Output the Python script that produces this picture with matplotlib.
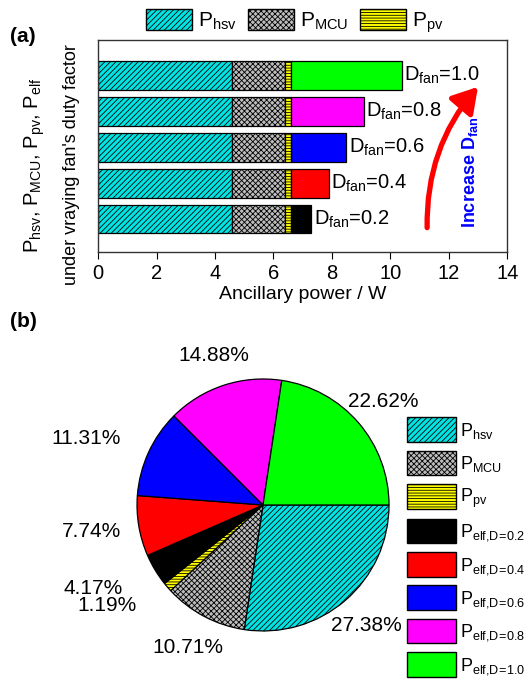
import numpy as np
import matplotlib
matplotlib.use("Agg")
import matplotlib.pyplot as plt
from matplotlib import font_manager
from matplotlib.patches import FancyArrowPatch, Patch

installed = {f.name for f in font_manager.fontManager.ttflist}
narrow = 'Liberation Sans Narrow' if 'Liberation Sans Narrow' in installed else 'Liberation Sans'

plt.rcParams['font.family'] = ['Liberation Sans', 'DejaVu Sans']
plt.rcParams['mathtext.fontset'] = 'custom'
plt.rcParams['mathtext.rm'] = 'Liberation Sans'
plt.rcParams['mathtext.it'] = 'Liberation Sans:italic'
plt.rcParams['mathtext.bf'] = 'Liberation Sans:bold'
plt.rcParams['mathtext.sf'] = narrow
plt.rcParams['hatch.linewidth'] = 0.6

# Ancillary power components (W)
p_hsv = 4.6
p_mcu = 1.8
p_pv = 0.2
duty_factors = [0.2, 0.4, 0.6, 0.8, 1.0]
p_elf = [0.7, 1.3, 1.9, 2.5, 3.8]
x_ticks = [0, 2, 4, 6, 8, 10, 12, 14]

base_names = [r'P$_{\mathrm{hsv}}$', r'P$_{\mathrm{MCU}}$', r'P$_{\mathrm{pv}}$']
elf_names = [r'P$_{\mathsf{elf{,}D\!=\!%.1f}}$' % d for d in duty_factors]

c_hsv, c_mcu, c_pv = '#00e4e4', '#bdbdbd', '#ffff00'
h_hsv, h_mcu, h_pv = '//////', 'xxxxxx', '------'
elf_colors = ['#000000', '#ff0000', '#0000ff', '#ff00ff', '#00ff00']

fig = plt.figure(figsize=(5.3, 6.82), dpi=100)

# ---- (a) stacked horizontal bars ----
ax = fig.add_axes([0.185, 0.6305, 0.772, 0.311])
ypos = np.arange(1, len(duty_factors) + 1)
h = 0.8
hsv_vals = np.full(len(ypos), p_hsv)
mcu_vals = np.full(len(ypos), p_mcu)
pv_vals = np.full(len(ypos), p_pv)
ax.barh(ypos, hsv_vals, height=h, color=c_hsv, edgecolor='black', hatch=h_hsv, lw=0.9)
ax.barh(ypos, mcu_vals, left=hsv_vals, height=h, color=c_mcu, edgecolor='black', hatch=h_mcu, lw=0.9)
ax.barh(ypos, pv_vals, left=hsv_vals + mcu_vals, height=h, color=c_pv, edgecolor='black', hatch=h_pv, lw=0.9)
left_elf = hsv_vals + mcu_vals + pv_vals
ax.barh(ypos, p_elf, left=left_elf, height=h, color=elf_colors, edgecolor='black', lw=0.9)

for y, d, e, l in zip(ypos, duty_factors, p_elf, left_elf):
    ax.text(l + e + 0.08, y, r'D$_{\mathrm{fan}}$=%.1f' % d, ha='left', va='center', fontsize=14.5)

ax.set_xlim(0, 14)
ax.set_ylim(0.08, 6.0)
ax.set_xticks(x_ticks)
ax.tick_params(axis='x', direction='out', length=5, labelsize=14.5, top=False)
ax.set_yticks([])
ax.set_xlabel('Ancillary power / W', fontsize=14, labelpad=2)
for s in ax.spines.values():
    s.set_linewidth(1.0)
    s.set_color('#333333')

arrow = FancyArrowPatch((11.26, 0.76), (13.0, 4.69),
                        connectionstyle='arc3,rad=-0.19',
                        arrowstyle='-|>,head_length=0.75,head_width=0.45',
                        mutation_scale=20, lw=3.8, color='#ff0000',
                        shrinkA=0, shrinkB=0)
ax.add_patch(arrow)
ax.text(12.73, 2.3, r'Increase D$_{\mathbf{fan}}$', rotation=90, color='#0000ff',
        fontsize=13, fontweight='bold', ha='center', va='center')

fig.text(0.066, 0.758, r'P$_{\mathrm{hsv}}$, P$_{\mathrm{MCU}}$, P$_{\mathrm{pv}}$, P$_{\mathrm{elf}}$',
         rotation=90, ha='center', va='center', fontsize=14.5)
fig.text(0.134, 0.758, "under vraying fan's duty factor",
         rotation=90, ha='center', va='center', fontsize=13)

top_handles = [Patch(facecolor=c_hsv, edgecolor='black', hatch=h_hsv),
               Patch(facecolor=c_mcu, edgecolor='black', hatch=h_mcu),
               Patch(facecolor=c_pv, edgecolor='black', hatch=h_pv)]
fig.legend(top_handles, base_names, loc='center', bbox_to_anchor=(0.556, 0.968),
           ncol=3, frameon=False, fontsize=15, handlelength=2.2, handleheight=1.15,
           handletextpad=0.3, columnspacing=0.55, borderpad=0, borderaxespad=0)

fig.text(0.018, 0.947, '(a)', fontsize=15, fontweight='bold', ha='left', va='center')

# ---- (b) pie chart of the shares ----
pie_vals = [p_hsv, p_mcu, p_pv] + p_elf
pie_colors = [c_hsv, c_mcu, c_pv] + elf_colors
pie_hatches = [h_hsv, h_mcu, h_pv, None, None, None, None, None]

axp = fig.add_axes([0.2585, 0.0748, 0.4755, 0.3695])
wedges, _, autotexts = axp.pie(pie_vals, colors=pie_colors, startangle=0, counterclock=False,
                                autopct='%.2f%%', pctdistance=1.25,
                                wedgeprops=dict(edgecolor='black', linewidth=0.9),
                                textprops=dict(fontsize=15))
for w, hp in zip(wedges, pie_hatches):
    if hp:
        w.set_hatch(hp)
axp.set_xlim(-1, 1)
axp.set_ylim(-1, 1)

# radial distance and angular shift (deg) for each percentage label
label_dist = [1.26, 1.28, 1.47, 1.5, 1.38, 1.5, 1.25, 1.26]
label_shift = [0, 0, -8, -5, -1, 4, 0, 0]
for w, t, r, sh in zip(wedges, autotexts, label_dist, label_shift):
    ang = np.deg2rad((w.theta1 + w.theta2) / 2 + sh)
    t.set_position((r * np.cos(ang), r * np.sin(ang)))
    t.set_ha('center')
    t.set_va('center')
    t.set_clip_on(False)

pie_handles = [Patch(facecolor=c, edgecolor='black', hatch=hp) for c, hp in zip(pie_colors, pie_hatches)]
leg_size = 14 if narrow != 'Liberation Sans' else 13
fig.legend(pie_handles, base_names + elf_names, loc='upper left', bbox_to_anchor=(0.768, 0.388),
           frameon=False, fontsize=leg_size, handlelength=2.5 * 14 / leg_size,
           handleheight=1.6 * 14 / leg_size, handletextpad=0.25,
           labelspacing=0.445 * 14 / leg_size, borderpad=0, borderaxespad=0)

fig.text(0.018, 0.528, '(b)', fontsize=15, fontweight='bold', ha='left', va='center')

fig.savefig('out.png', dpi=100)
